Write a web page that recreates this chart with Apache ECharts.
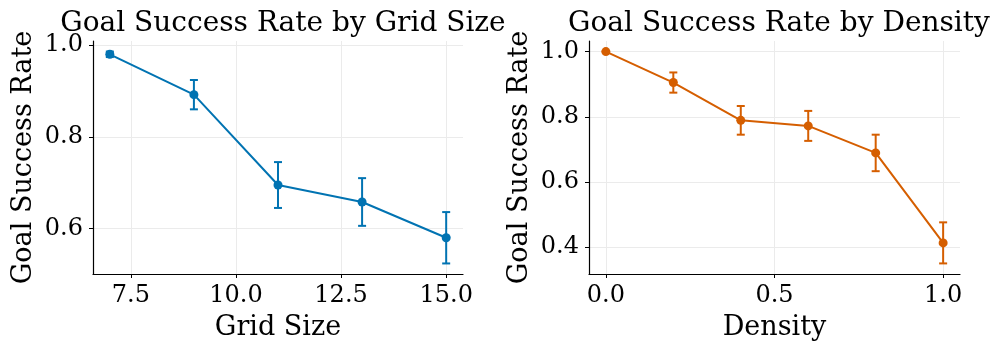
<!DOCTYPE html>
<html>
<head>
<meta charset="utf-8">
<script src="https://cdn.jsdelivr.net/npm/echarts@6/dist/echarts.min.js"></script>
<style>
  html, body { margin: 0; padding: 0; background: #fff; }
  #chart { width: 997px; height: 352px; }
</style>
</head>
<body>
<div id="chart"></div>
<script>
// grid size panel
const gridSizes = [7, 9, 11, 13, 15];
const gridRate = [0.980, 0.892, 0.695, 0.658, 0.580];
const gridErr = [0.006, 0.032, 0.050, 0.052, 0.056];
const gridXTicks = [7.5, 10.0, 12.5, 15.0];
const gridYTicks = [0.6, 0.8, 1.0];

// density panel
const densities = [0.0, 0.2, 0.4, 0.6, 0.8, 1.0];
const densityRate = [1.000, 0.905, 0.789, 0.772, 0.689, 0.413];
const densityErr = [0.0, 0.031, 0.044, 0.046, 0.056, 0.063];
const densityXTicks = [0.0, 0.5, 1.0];
const densityYTicks = [0.4, 0.6, 0.8, 1.0];

const BLUE = '#0173b2';
const ORANGE = '#d55e00';
const FONT = 'DejaVu Serif';

const chart = echarts.init(document.getElementById('chart'), null, {renderer: 'canvas'});

function errorSeries(xs, ys, es, color, idx) {
    return {
        type: 'custom',
        xAxisIndex: idx,
        yAxisIndex: idx,
        silent: true,
        z: 3,
        data: xs.map((x, i) => [x, ys[i] - es[i], ys[i] + es[i]]),
        renderItem: function (params, api) {
            const lo = api.coord([api.value(0), api.value(1)]);
            const hi = api.coord([api.value(0), api.value(2)]);
            const cap = 4;
            const style = {stroke: color, lineWidth: 2};
            return {
                type: 'group',
                children: [
                    {type: 'line', shape: {x1: lo[0], y1: lo[1], x2: hi[0], y2: hi[1]}, style: style},
                    {type: 'line', shape: {x1: lo[0] - cap, y1: lo[1], x2: lo[0] + cap, y2: lo[1]}, style: style},
                    {type: 'line', shape: {x1: hi[0] - cap, y1: hi[1], x2: hi[0] + cap, y2: hi[1]}, style: style}
                ]
            };
        }
    };
}

function xAxisFor(idx, min, max, ticks, name) {
    return {
        type: 'value',
        gridIndex: idx,
        min: min,
        max: max,
        name: name,
        nameLocation: 'middle',
        nameGap: 40,
        nameTextStyle: {fontFamily: FONT, fontSize: 27, color: '#000'},
        axisLine: {show: true, onZero: false, lineStyle: {color: '#000', width: 1.2}},
        axisTick: {show: true, length: 4, customValues: ticks, lineStyle: {color: '#000', width: 1}},
        axisLabel: {customValues: ticks, fontFamily: FONT, fontSize: 24, color: '#000', margin: 10,
            formatter: v => v.toFixed(1)},
        splitLine: {show: true, lineStyle: {color: '#ebebeb', width: 1}}
    };
}

function yAxisFor(idx, min, max, ticks, name) {
    return {
        type: 'value',
        gridIndex: idx,
        min: min,
        max: max,
        name: name,
        nameLocation: 'middle',
        nameGap: 56,
        nameTextStyle: {fontFamily: FONT, fontSize: 27, color: '#000'},
        axisLine: {show: true, onZero: false, lineStyle: {color: '#000', width: 1.2}},
        axisTick: {show: true, length: 4, customValues: ticks, lineStyle: {color: '#000', width: 1}},
        axisLabel: {customValues: ticks, fontFamily: FONT, fontSize: 24, color: '#000', margin: 10,
            formatter: v => v.toFixed(1)},
        splitLine: {show: true, lineStyle: {color: '#ebebeb', width: 1}}
    };
}

const titleStyle = {fontFamily: FONT, fontSize: 28, fontWeight: 'normal', color: '#000'};

const option = {
    backgroundColor: '#fff',
    animation: false,
    title: [
        {text: 'Goal Success Rate by Grid Size', left: 278, top: 5, textAlign: 'center', textStyle: titleStyle},
        {text: 'Goal Success Rate by Density', left: 774, top: 5, textAlign: 'center', textStyle: titleStyle}
    ],
    grid: [
        {left: 93, top: 41, width: 370, height: 233},
        {left: 589, top: 41, width: 371, height: 233}
    ],
    xAxis: [
        xAxisFor(0, 6.6, 15.4, gridXTicks, 'Grid Size'),
        xAxisFor(1, -0.05, 1.05, densityXTicks, 'Density')
    ],
    yAxis: [
        yAxisFor(0, 0.501, 1.009, gridYTicks, 'Goal Success Rate'),
        yAxisFor(1, 0.3175, 1.0325, densityYTicks, 'Goal Success Rate')
    ],
    series: [
        errorSeries(gridSizes, gridRate, gridErr, BLUE, 0),
        {
            type: 'line',
            xAxisIndex: 0,
            yAxisIndex: 0,
            data: gridSizes.map((x, i) => [x, gridRate[i]]),
            symbol: 'circle',
            symbolSize: 9,
            z: 4,
            itemStyle: {color: BLUE},
            lineStyle: {color: BLUE, width: 2}
        },
        errorSeries(densities, densityRate, densityErr, ORANGE, 1),
        {
            type: 'line',
            xAxisIndex: 1,
            yAxisIndex: 1,
            data: densities.map((x, i) => [x, densityRate[i]]),
            symbol: 'circle',
            symbolSize: 9,
            z: 4,
            itemStyle: {color: ORANGE},
            lineStyle: {color: ORANGE, width: 2}
        }
    ]
};

chart.setOption(option);
</script>
</body>
</html>
